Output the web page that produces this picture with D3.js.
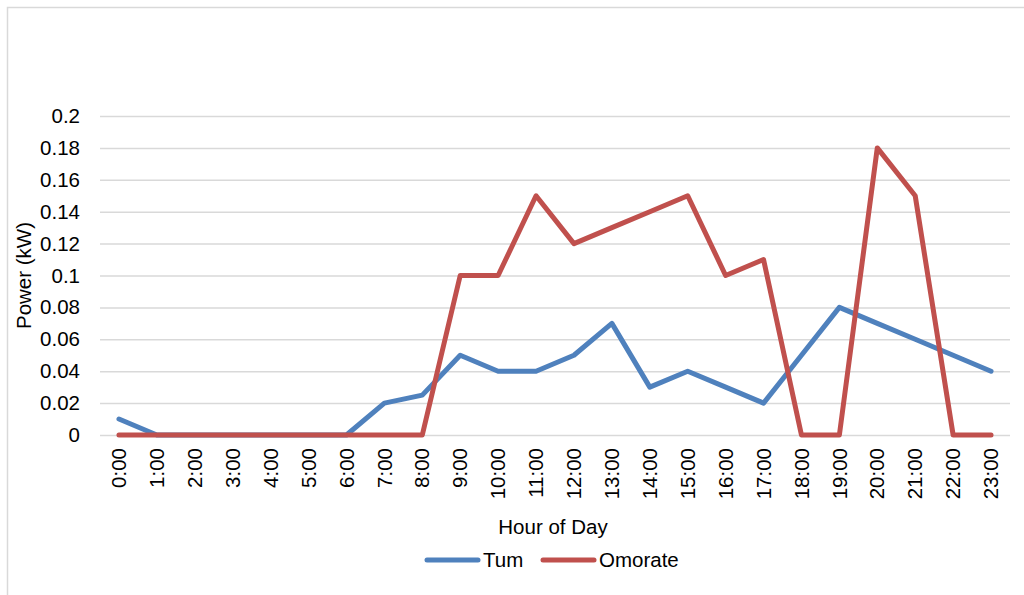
<!DOCTYPE html>
<html>
<head>
<meta charset="utf-8">
<script src="https://cdn.jsdelivr.net/npm/d3@7"></script>
<style>
  body { margin: 0; background: #fff; }
  svg { font-family: "Liberation Sans", Arial, sans-serif; }
</style>
</head>
<body>
<script>
// data
const hours = ['0:00','1:00','2:00','3:00','4:00','5:00','6:00','7:00','8:00','9:00','10:00','11:00',
               '12:00','13:00','14:00','15:00','16:00','17:00','18:00','19:00','20:00','21:00','22:00','23:00']
const tum = [0.01,0,0,0,0,0,0,0.02,0.025,0.05,0.04,0.04,0.05,0.07,0.03,0.04,0.03,0.02,0.05,0.08,0.07,0.06,0.05,0.04]
const omorate = [0,0,0,0,0,0,0,0,0,0.1,0.1,0.15,0.12,0.13,0.14,0.15,0.1,0.11,0,0,0.18,0.15,0,0]
const yTicks = [0,0.02,0.04,0.06,0.08,0.1,0.12,0.14,0.16,0.18,0.2]
const seriesNames = ['Tum', 'Omorate']
const seriesColors = ['#4f81bd', '#c0504d']

const width = 1024, height = 595
const margin = {top: 116, right: 14, bottom: 160, left: 100}
const fontSize = 20.5

const svg = d3.select('body').append('svg')
    .attr('width', width)
    .attr('height', height)

// chart frame (only left/top visible in the picture)
svg.append('path')
    .attr('d', 'M7.5,' + height + 'V7.5H' + width)
    .attr('fill', 'none')
    .attr('stroke', '#d9d9d9')
    .attr('stroke-width', 1.5)

const x = d3.scaleBand()
    .domain(hours)
    .range([margin.left, width - margin.right])

const y = d3.scaleLinear()
    .domain([0, 0.2])
    .range([height - margin.bottom, margin.top])

// gridlines + y labels
const yAxis = svg.append('g')
    .attr('transform', 'translate(' + margin.left + ',0)')
    .call(d3.axisLeft(y).tickValues(yTicks).tickSize(-(width - margin.left - margin.right)).tickPadding(20)
        .tickFormat(d => d3.format('~g')(d)))
yAxis.select('.domain').remove()
yAxis.selectAll('line').attr('stroke', '#d9d9d9').attr('stroke-width', 1.5)
yAxis.selectAll('text').attr('font-size', fontSize).attr('fill', '#000').attr('font-family', 'Liberation Sans, Arial, sans-serif')

// x labels, rotated
const xAxis = svg.append('g')
    .attr('transform', 'translate(0,' + y(0) + ')')
    .call(d3.axisBottom(x).tickSize(0))
xAxis.select('.domain').remove()
xAxis.selectAll('text')
    .attr('font-size', fontSize)
    .attr('fill', '#000')
    .attr('font-family', 'Liberation Sans, Arial, sans-serif')
    .attr('text-anchor', 'end')
    .attr('dy', '0.35em')
    .attr('transform', 'translate(0,13) rotate(-90)')
    .attr('y', 0)
    .attr('x', 0)

// lines
const line = d3.line()
    .x((d, i) => x(hours[i]) + x.bandwidth() / 2)
    .y(d => y(d))

const series = [tum, omorate]
series.forEach((s, i) => {
    svg.append('path')
        .datum(s)
        .attr('d', line)
        .attr('fill', 'none')
        .attr('stroke', seriesColors[i])
        .attr('stroke-width', 5)
        .attr('stroke-linejoin', 'round')
        .attr('stroke-linecap', 'round')
})

// axis titles
svg.append('text')
    .attr('x', 553)
    .attr('y', 534)
    .attr('text-anchor', 'middle')
    .attr('font-size', fontSize)
    .text('Hour of Day')

svg.append('text')
    .attr('transform', 'translate(31,' + ((y(0) + y(0.2)) / 2) + ') rotate(-90)')
    .attr('text-anchor', 'middle')
    .attr('font-size', fontSize)
    .text('Power (kW)')

// legend
const legendX = [425, 541]
const legend = svg.append('g')
seriesNames.forEach((n, i) => {
    legend.append('line')
        .attr('x1', legendX[i] + 2).attr('x2', legendX[i] + 53)
        .attr('y1', 560).attr('y2', 560)
        .attr('stroke', seriesColors[i])
        .attr('stroke-width', 5)
        .attr('stroke-linecap', 'round')
    legend.append('text')
        .attr('x', legendX[i] + 58)
        .attr('y', 567)
        .attr('font-size', fontSize)
        .text(n)
})
</script>
</body>
</html>
